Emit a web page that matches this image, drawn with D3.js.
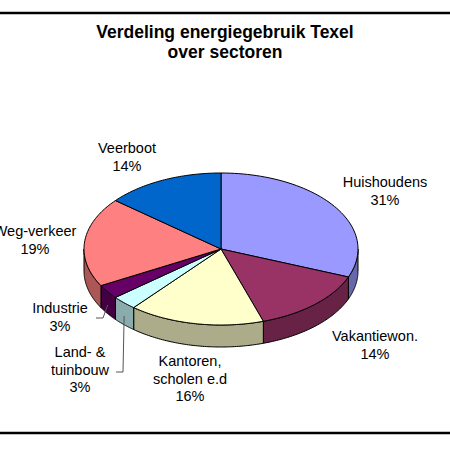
<!DOCTYPE html>
<html>
<head>
<meta charset="utf-8">
<script src="https://cdn.jsdelivr.net/npm/d3@7"></script>
<style>
  body { margin: 0; background: #fff; }
  text { font-family: Arial, "Liberation Sans", sans-serif; }
</style>
</head>
<body>
<svg id="chart" width="450" height="450"></svg>
<script>
const sectors = ['Huishoudens', 'Vakantiewon.', 'Kantoren,\nscholen e.d', 'Land- &\ntuinbouw', 'Industrie', 'Weg-verkeer', 'Veerboot'];
const shares = [31, 14, 16, 3, 3, 19, 14];
const colours = ['#9999ff', '#993366', '#ffffcc', '#ccffff', '#660066', '#ff8080', '#0066cc'];

// label placement (text centre x, first baseline y) and leader line start
const labelPos = [[385, 187], [375, 341], [190, 366], [80, 357], [60, 313], [35, 236], [127, 153]];
const leaders = {3: [116, 372], 4: [96, 318]};

const svg = d3.select('svg#chart');
const cx = 221, cy = 249, rx = 137, ry = 76, depth = 22;

svg.append('line').attr('x1', 0).attr('x2', 450).attr('y1', 13).attr('y2', 13)
    .attr('stroke', '#000').attr('stroke-width', 2.5);
svg.append('line').attr('x1', 0).attr('x2', 450).attr('y1', 433).attr('y2', 433)
    .attr('stroke', '#000').attr('stroke-width', 2.5);

const title = svg.append('text').attr('x', 225).attr('y', 38).attr('text-anchor', 'middle')
    .attr('font-weight', 'bold').attr('font-size', 17.5);
title.append('tspan').attr('x', 225).text('Verdeling energiegebruik Texel');
title.append('tspan').attr('x', 225).attr('dy', 20).text('over sectoren');

const arcs = d3.pie().sort(null).value(d => d)(shares);
const pt = (a, dy = 0) => [cx + rx * Math.sin(a), cy - ry * Math.cos(a) + dy];

function topPath(a0, a1) {
    const n = 60, pts = [[cx, cy]];
    for (let i = 0; i <= n; i++) pts.push(pt(a0 + (a1 - a0) * i / n));
    return 'M' + pts.map(p => p.join(',')).join('L') + 'Z';
}
function sidePath(a0, a1) {
    const n = 60, up = [], down = [];
    for (let i = 0; i <= n; i++) {
        const a = a0 + (a1 - a0) * i / n;
        up.push(pt(a));
        down.push(pt(a, depth));
    }
    return 'M' + up.concat(down.reverse()).map(p => p.join(',')).join('L') + 'Z';
}

const g = svg.append('g');
// sides on the front half (angles between pi/2 and 3pi/2)
arcs.forEach((d, i) => {
    const a0 = Math.max(d.startAngle, Math.PI / 2), a1 = Math.min(d.endAngle, 3 * Math.PI / 2);
    if (a1 <= a0) return;
    g.append('path').attr('d', sidePath(a0, a1))
        .attr('fill', d3.rgb(colours[i]).darker(1.1))
        .attr('stroke', '#000').attr('stroke-width', 1);
});
arcs.forEach((d, i) => {
    g.append('path').attr('d', topPath(d.startAngle, d.endAngle))
        .attr('fill', colours[i]).attr('stroke', '#000').attr('stroke-width', 1);
});

arcs.forEach((d, i) => {
    const [lx, ly] = labelPos[i];
    const lines = sectors[i].split('\n').concat([shares[i] + '%']);
    const t = svg.append('text').attr('text-anchor', 'middle').attr('font-size', 14.5).attr('y', ly);
    lines.forEach((s, k) => t.append('tspan').attr('x', lx).attr('dy', k ? 17.5 : 0).text(s));
    if (leaders[i]) {
        const m = (d.startAngle + d.endAngle) / 2;
        const [ex, ey] = pt(m, depth * 0.6);
        const [sx, sy] = leaders[i];
        svg.append('polyline')
            .attr('points', `${sx},${sy} ${sx + 7},${sy} ${ex},${ey}`)
            .attr('fill', 'none').attr('stroke', '#555').attr('stroke-width', 1);
    }
});
</script>
</body>
</html>
